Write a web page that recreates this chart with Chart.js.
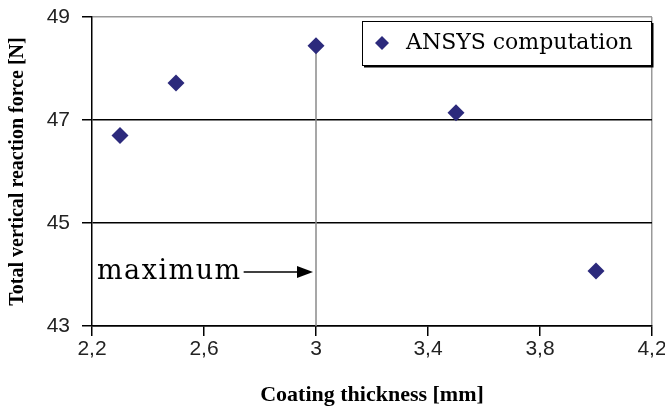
<!DOCTYPE html>
<html>
<head>
<meta charset="utf-8">
<script src="https://cdn.jsdelivr.net/npm/chart.js@4"></script>
<style>
    html, body { margin: 0; padding: 0; background: #fff; }
    #wrap { width: 665px; height: 407px; }
</style>
</head>
<body>
<div id="wrap"><canvas id="chart" width="665" height="407"></canvas></div>
<script>
const thickness = [2.3, 2.5, 3.0, 3.5, 4.0];
const reactionForce = [46.7, 47.72, 48.44, 47.14, 44.07];
const seriesLabel = 'ANSYS computation';
const xTicks = [2.2, 2.6, 3.0, 3.4, 3.8, 4.2];
const yTicks = [43, 45, 47, 49];
const maxLabel = 'maximum';
const maxLabelY = 44.05;

const points = thickness.map((x, i) => ({ x: x, y: reactionForce[i] }));
const peak = points.reduce((a, b) => (b.y > a.y ? b : a));
const markerColor = '#2c2a7c';

const fmt = v => String(Number(v.toFixed(1))).replace('.', ',');

const extras = {
    id: 'extras',
    afterDatasetsDraw(chart) {
        const ctx = chart.ctx;
        const area = chart.chartArea;
        const xs = chart.scales.x;
        const ys = chart.scales.y;

        // "maximum" note with arrow pointing to the peak line
        const ly = ys.getPixelForValue(maxLabelY);
        ctx.save();
        ctx.fillStyle = '#000';
        ctx.font = '27px "DejaVu Serif"';
        ctx.letterSpacing = '1.5px';
        ctx.textBaseline = 'middle';
        ctx.fillText(maxLabel, area.left + 5, ly);
        const tw = ctx.measureText(maxLabel).width;
        ctx.letterSpacing = '0px';
        const x0 = area.left + 5 + tw + 2;
        const x1 = xs.getPixelForValue(peak.x) - 3;
        ctx.strokeStyle = '#000';
        ctx.lineWidth = 1.5;
        ctx.beginPath();
        ctx.moveTo(x0, ly);
        ctx.lineTo(x1 - 12, ly);
        ctx.stroke();
        ctx.beginPath();
        ctx.moveTo(x1, ly);
        ctx.lineTo(x1 - 16, ly - 6);
        ctx.lineTo(x1 - 16, ly + 6);
        ctx.closePath();
        ctx.fill();

        // legend box
        const bw = 289, bh = 44;
        const bx = area.right - bw - 1, by = area.top + 4;
        ctx.fillStyle = '#fff';
        ctx.fillRect(bx, by, bw, bh);
        ctx.strokeStyle = '#000';
        ctx.lineWidth = 1;
        ctx.strokeRect(bx + 0.5, by + 0.5, bw, bh);
        ctx.lineWidth = 2;
        ctx.beginPath();
        ctx.moveTo(bx + 2, by + bh + 1.5);
        ctx.lineTo(bx + bw + 1.5, by + bh + 1.5);
        ctx.lineTo(bx + bw + 1.5, by + 2);
        ctx.stroke();
        const mx = bx + 20, my = by + bh / 2;
        ctx.fillStyle = markerColor;
        ctx.beginPath();
        ctx.moveTo(mx, my - 7);
        ctx.lineTo(mx + 7, my);
        ctx.lineTo(mx, my + 7);
        ctx.lineTo(mx - 7, my);
        ctx.closePath();
        ctx.fill();
        ctx.fillStyle = '#000';
        ctx.font = '22px "DejaVu Serif"';
        ctx.textBaseline = 'middle';
        ctx.fillText(seriesLabel, bx + 44, my);
        ctx.restore();
    }
};

new Chart(document.getElementById('chart'), {
    type: 'scatter',
    data: {
        datasets: [{
            label: 'peak',
            data: [{ x: peak.x, y: peak.y }, { x: peak.x, y: yTicks[0] }],
            showLine: true,
            borderColor: '#8a8a8a',
            borderWidth: 1.5,
            pointRadius: 0,
            order: 2
        }, {
            label: seriesLabel,
            data: points,
            pointStyle: 'rectRot',
            pointRadius: 8.5,
            pointBackgroundColor: markerColor,
            pointBorderColor: markerColor,
            pointBorderWidth: 0,
            order: 1
        }]
    },
    plugins: [extras],
    options: {
        responsive: false,
        animation: false,
        layout: { padding: { left: 6, top: 17, right: 13, bottom: 0 } },
        plugins: { legend: { display: false }, tooltip: { enabled: false } },
        scales: {
            x: {
                type: 'linear',
                min: xTicks[0],
                max: xTicks[xTicks.length - 1],
                afterBuildTicks: s => { s.ticks = xTicks.map(v => ({ value: v })); },
                afterFit: s => { s.height = 81; s.paddingLeft = 0; s.paddingRight = 0; },
                ticks: {
                    color: '#222',
                    font: { family: 'Liberation Sans', size: 21 },
                    padding: 1,
                    maxRotation: 0,
                    callback: v => fmt(v)
                },
                grid: {
                    color: c => (c.tick && c.tick.value === 4.2 ? '#999' : 'rgba(0,0,0,0)'),
                    tickColor: '#000',
                    tickLength: 10,
                    lineWidth: 1.5
                },
                border: { color: '#000', width: 1.5 },
                title: {
                    display: true,
                    text: 'Coating thickness [mm]',
                    color: '#000',
                    font: { family: 'Liberation Serif', size: 22, weight: 'bold' },
                    padding: { top: 0, bottom: -2 }
                }
            },
            y: {
                min: yTicks[0],
                max: yTicks[yTicks.length - 1],
                afterBuildTicks: s => { s.ticks = yTicks.map(v => ({ value: v })); },
                afterFit: s => { s.width = 86; s.paddingTop = 0; s.paddingBottom = 0; },
                ticks: {
                    color: '#222',
                    font: { family: 'Liberation Sans', size: 21 },
                    padding: 12
                },
                grid: {
                    color: c => (c.tick && c.tick.value === 49 ? '#999' : '#000'),
                    tickColor: '#000',
                    tickLength: 10,
                    lineWidth: 1.5
                },
                border: { color: '#000', width: 1.5 },
                title: {
                    display: true,
                    text: 'Total vertical reaction force [N]',
                    color: '#000',
                    font: { family: 'Liberation Serif', size: 20, weight: 'bold' },
                    padding: { top: 0, bottom: 0 }
                }
            }
        }
    }
});
</script>
</body>
</html>
